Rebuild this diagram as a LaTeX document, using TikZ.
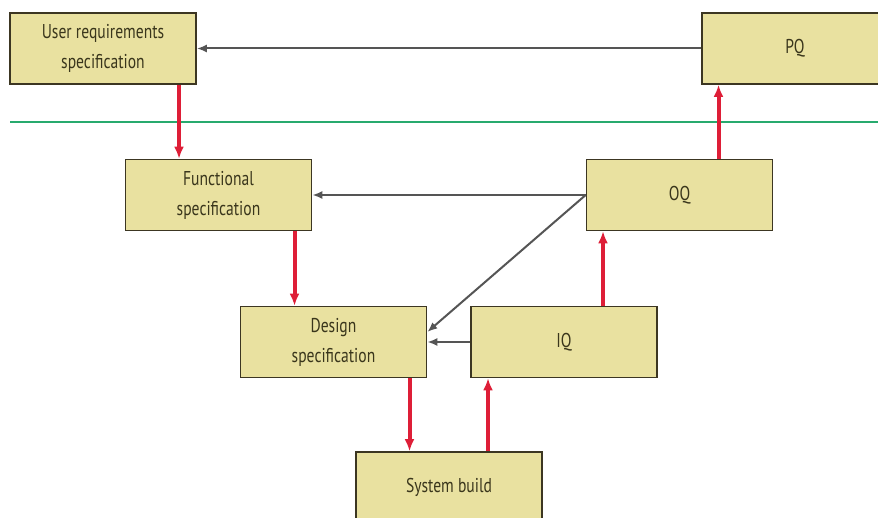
\documentclass[tikz,border=0pt]{standalone}
\usepackage{fontspec}
\setmainfont{PT Sans}[FakeStretch=0.78]
\usetikzlibrary{arrows.meta}
\definecolor{boxfill}{RGB}{233,225,160}
\definecolor{boxline}{RGB}{60,54,34}
\definecolor{boxtext}{RGB}{58,54,28}
\definecolor{flowred}{RGB}{222,30,55}
\definecolor{linkgray}{RGB}{85,85,85}
\definecolor{phasegreen}{RGB}{40,170,110}
\begin{document}
\begin{tikzpicture}[x=0.5pt, y=-0.5pt, every node/.style={font=\fontsize{10}{15}\selectfont, text=boxtext},
	stage/.style={draw=boxline, fill=boxfill, line width=0.8pt, minimum width=93pt, minimum height=35.5pt, inner sep=0pt, align=center},
	flow/.style={draw=flowred, line width=2pt, -{Latex[length=6pt,width=5pt]}},
	link/.style={draw=linkgray, line width=1pt, -{Latex[length=5pt,width=4pt]}}]
	\useasboundingbox (0,0) rectangle (878,518);
	\clip (0,0) rectangle (878,518);
	\draw[phasegreen, line width=1.2pt] (10,122) -- (878,122);
	\node[stage] (urs) at (103,48.5) {User requirements\\specification};
	\node[stage] (pq) at (795,48.5) {PQ};
	\node[stage] (fs) at (218.5,195) {Functional\\specification};
	\node[stage] (oq) at (679.5,195) {OQ};
	\node[stage] (ds) at (333.5,342) {Design\\specification};
	\node[stage] (iq) at (564,342) {IQ};
	\node[stage] (sb) at (449,487.5) {System build};
	\draw[link] (pq.west) -- (urs.east);
	\draw[link] (oq.west) -- (fs.east);
	\draw[link] (oq.west) -- ([yshift=5pt]ds.east);
	\draw[link] (iq.west) -- (ds.east);
	\draw[flow] ([xshift=38pt]urs.south) -- ([xshift=38pt]urs.south |- fs.north);
	\draw[flow] ([xshift=38pt]fs.south) -- ([xshift=38pt]fs.south |- ds.north);
	\draw[flow] ([xshift=38pt]ds.south) -- ([xshift=38pt]ds.south |- sb.north);
	\draw[flow] ([xshift=19.5pt]sb.north) -- ([xshift=19.5pt]sb.north |- iq.south);
	\draw[flow] ([xshift=19.5pt]iq.north) -- ([xshift=19.5pt]iq.north |- oq.south);
	\draw[flow] ([xshift=19.5pt]oq.north) -- ([xshift=19.5pt]oq.north |- pq.south);
\end{tikzpicture}
\end{document}
